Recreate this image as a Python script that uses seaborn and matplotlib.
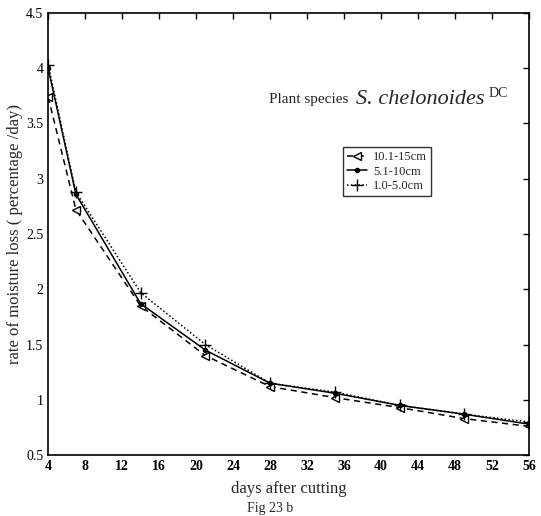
import matplotlib
matplotlib.use("Agg")
import matplotlib.pyplot as plt
import seaborn as sns
import pandas as pd

days = [4, 7, 14, 21, 28, 35, 42, 49, 56]
s_10_15 = [3.74, 2.72, 1.85, 1.40, 1.12, 1.02, 0.93, 0.83, 0.76]
s_5_10 = [4.00, 2.86, 1.87, 1.45, 1.15, 1.06, 0.95, 0.87, 0.78]
s_1_5 = [4.03, 2.88, 1.97, 1.50, 1.15, 1.07, 0.95, 0.87, 0.80]
labels = ["10.1-15cm", "5.1-10cm", "1.0-5.0cm"]
xticks = list(range(4, 57, 4))
yticks = [0.5, 1, 1.5, 2, 2.5, 3, 3.5, 4, 4.5]

df = pd.DataFrame({
    "days": days * 3,
    "rate": s_10_15 + s_5_10 + s_1_5,
    "series": [labels[0]] * 9 + [labels[1]] * 9 + [labels[2]] * 9,
})

sns.set_theme(style="white")
plt.rcParams["font.family"] = ["Liberation Serif", "DejaVu Serif"]
fig = plt.figure(figsize=(5.41, 5.16), dpi=100)
ax = fig.add_axes([0.089, 0.118, 0.889, 0.857])

styles = {
    labels[0]: dict(ls=(0, (4, 3)), marker="<", mfc="white", ms=6),
    labels[1]: dict(ls="-", marker=".", mfc="black", ms=6),
    labels[2]: dict(ls=(0, (1, 1.5)), marker="+", mfc="black", ms=8),
}
for lab in labels:
    sub = df[df["series"] == lab]
    st = styles[lab]
    sns.lineplot(data=sub, x="days", y="rate", ax=ax, color="black", lw=1.1,
                 linestyle=st["ls"], marker=st["marker"], markersize=st["ms"],
                 markerfacecolor=st["mfc"], markeredgecolor="black",
                 markeredgewidth=1, label=lab)

ax.set_xlim(4, 56)
ax.set_ylim(0.5, 4.5)
ax.set_xticks(xticks)
ax.set_yticks(yticks)
ax.set_xticklabels([str(t) for t in xticks], fontsize=10, fontweight="bold")
ax.set_yticklabels(["0.5", "1", "1.5", "2", "2.5", "3", "3.5", "4", "4.5"], fontsize=10)
ax.tick_params(direction="in", top=True, right=True, length=4, width=1, colors="black")
for sp in ax.spines.values():
    sp.set_color("black")
    sp.set_linewidth(1.2)
ax.set_xlabel("days after cutting", fontsize=12, labelpad=6)
ax.set_ylabel("rate of moisture loss ( percentage /day)", fontsize=12, labelpad=2)
fig.text(0.5, 0.002, "Fig 23 b", ha="center", va="bottom", fontsize=10)

ax.text(0.46, 0.805, "Plant species", transform=ax.transAxes, fontsize=11, va="center")
ax.text(0.64, 0.805, "S. chelonoides", transform=ax.transAxes, fontsize=16,
        style="italic", va="center")
ax.text(0.915, 0.818, "DC", transform=ax.transAxes, fontsize=10, va="center")

leg = ax.legend(loc="upper left", bbox_to_anchor=(0.6, 0.71), fontsize=9,
                frameon=True, fancybox=False, edgecolor="black",
                handlelength=1.6, borderpad=0.3, labelspacing=0.2, handletextpad=0.5)
leg.get_frame().set_linewidth(1)

fig.savefig("out.png", dpi=100)
